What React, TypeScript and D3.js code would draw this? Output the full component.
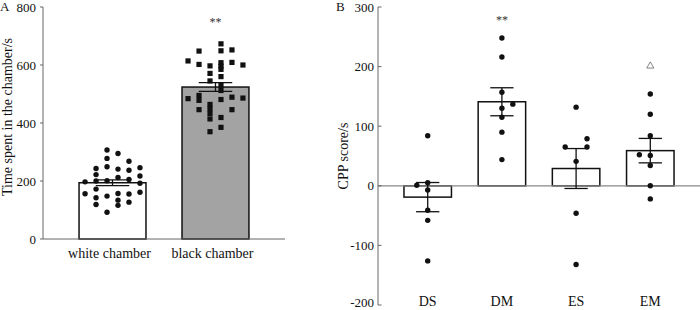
import React from "react";
import * as d3 from "d3";

// ---------- Panel A data ----------
const categoriesA = ["white chamber", "black chamber"];
const meansA = [194, 524];
const semA = [10, 15];
const ticksA = [0, 200, 400, 600, 800];
// white chamber individual values and their jitter column (0..5)
const whiteValues = [197, 156, 243, 222, 200, 172, 142, 119, 307, 278, 249, 201, 148, 92, 295, 241, 212, 157, 134, 116, 268, 237, 205, 155, 127, 246, 217, 192, 161];
const whiteCols = [0, 0, 1, 1, 1, 1, 1, 1, 2, 2, 2, 2, 2, 2, 3, 3, 3, 3, 3, 3, 4, 4, 4, 4, 4, 5, 5, 5, 5];
const blackValues = [614, 484, 648, 602, 495, 478, 446, 597, 571, 545, 464, 449, 433, 414, 370, 673, 649, 608, 596, 585, 560, 530, 512, 481, 419, 385, 652, 609, 489, 446, 600, 486];
const blackCols = [0, 0, 1, 1, 1, 1, 1, 2, 2, 2, 2, 2, 2, 2, 2, 3, 3, 3, 3, 3, 3, 3, 3, 3, 3, 3, 4, 4, 4, 4, 5, 5];
const sigA = ["", "**"];

// ---------- Panel B data ----------
const categoriesB = ["DS", "DM", "ES", "EM"];
const meansB = [-19, 141, 29, 59];
const semB = [24.5, 23.5, 33.5, 20.5];
const ticksB = [-200, -100, 0, 100, 200, 300];
const dsValues = [84, 1, 5, -7, -41, -58, -126];
const dsCols = [0, -1, 0, 0, 0, 0, 0];
const dmValues = [248, 216, 157, 137, 130, 115, 90, 44];
const dmCols = [0, 0, 0, 1, 0, 0, 0, 0];
const esValues = [132, 65, 79, 65, 41, -46, -132];
const esCols = [0, -1, 1, 1, 0, 0, 0];
const emValues = [154, 120, 84, 52, 51, 34, 0, -22];
const emCols = [0, 0, 0, -1, 0, 0, 0, 0];
const sigB = ["", "**", "", ""];
const triangleB = [null, null, null, 201];

const FONT = "'Liberation Serif', 'Times New Roman', serif";
const AXIS = "#666";

export default function App() {
  // Panel A scales
  const xA = d3.scaleBand<string>().domain(categoriesA).range([43, 285]).paddingInner(0.35).paddingOuter(0.35);
  const yA = d3.scaleLinear().domain([0, 800]).range([239, 7]);
  const bwA = xA.bandwidth();
  const colStepA = bwA * 0.164;
  const ptsA = [
    { cat: categoriesA[0], values: whiteValues, cols: whiteCols, square: false },
    { cat: categoriesA[1], values: blackValues, cols: blackCols, square: true },
  ];

  // Panel B scales
  const xB = d3.scaleBand<string>().domain(categoriesB).range([378, 700]).paddingInner(0.36).paddingOuter(0.35);
  const yB = d3.scaleLinear().domain([-200, 300]).range([305, 7]);
  const bwB = xB.bandwidth();
  const colStepB = bwB * 0.23;
  const ptsB = [
    { values: dsValues, cols: dsCols },
    { values: dmValues, cols: dmCols },
    { values: esValues, cols: esCols },
    { values: emValues, cols: emCols },
  ];

  return (
    <svg width={700} height={310} style={{ position: "absolute", left: 0, top: 0, background: "#fff" }} fontFamily={FONT}>
      {/* ===== Panel A ===== */}
      <text x={0} y={11} fontSize={13} fill="#111">A</text>
      <text transform={`translate(12,${(yA(0) + yA(800)) / 2 - 6}) rotate(-90)`} textAnchor="middle" fontSize={14} fill="#111">
        Time spent in the chamber/s
      </text>
      {/* bars */}
      {categoriesA.map((c, i) => (
        <rect key={c} x={xA(c)!} y={yA(meansA[i])} width={bwA} height={yA(0) - yA(meansA[i])}
          fill={i === 0 ? "#fff" : "#a3a3a3"} stroke="#111" strokeWidth={1.5} />
      ))}
      {/* points */}
      {ptsA.map((g) =>
        g.values.map((v, j) => {
          const cx = xA(g.cat)! + bwA / 2 + (g.cols[j] - 2.5) * colStepA;
          const cy = yA(v);
          return g.square ? (
            <rect key={g.cat + j} x={cx - 2.6} y={cy - 2.6} width={5.2} height={5.2} fill="#111" />
          ) : (
            <circle key={g.cat + j} cx={cx} cy={cy} r={2.7} fill="#111" />
          );
        })
      )}
      {/* error bars */}
      {categoriesA.map((c, i) => {
        const cx = xA(c)! + bwA / 2;
        const hw = bwA * 0.25;
        return (
          <g key={"eA" + c} stroke="#111" strokeWidth={1.3}>
            <line x1={cx} x2={cx} y1={yA(meansA[i] + semA[i])} y2={yA(meansA[i] - semA[i])} />
            <line x1={cx - hw} x2={cx + hw} y1={yA(meansA[i] + semA[i])} y2={yA(meansA[i] + semA[i])} />
            <line x1={cx - hw} x2={cx + hw} y1={yA(meansA[i] - semA[i])} y2={yA(meansA[i] - semA[i])} />
          </g>
        );
      })}
      {/* significance */}
      {categoriesA.map((c, i) => (
        <text key={"sA" + c} x={xA(c)! + bwA / 2} y={yA(735)} textAnchor="middle" fontSize={12} fill="#333">{sigA[i]}</text>
      ))}
      {/* axes */}
      <line x1={43} x2={43} y1={yA(800)} y2={yA(0)} stroke={AXIS} strokeWidth={1} />
      <line x1={43} x2={285} y1={yA(0)} y2={yA(0)} stroke={AXIS} strokeWidth={1} />
      {ticksA.map((t) => (
        <g key={"tA" + t}>
          <line x1={40} x2={43} y1={yA(t)} y2={yA(t)} stroke={AXIS} />
          <text x={36} y={yA(t) + 4.5} textAnchor="end" fontSize={13} fill="#111">{t}</text>
        </g>
      ))}
      {categoriesA.map((c) => (
        <text key={"lA" + c} x={xA(c)! + bwA / 2 - 3} y={258} textAnchor="middle" fontSize={14} fill="#111">{c}</text>
      ))}

      {/* ===== Panel B ===== */}
      <text x={336} y={11} fontSize={13} fill="#111">B</text>
      <text transform={`translate(348,${(yB(-200) + yB(300)) / 2}) rotate(-90)`} textAnchor="middle" fontSize={14} fill="#111">
        CPP score/s
      </text>
      {categoriesB.map((c, i) => (
        <rect key={c} x={xB(c)!} y={Math.min(yB(meansB[i]), yB(0))} width={bwB}
          height={Math.abs(yB(0) - yB(meansB[i]))} fill="#fff" stroke="#111" strokeWidth={1.5} />
      ))}
      <line x1={378} x2={700} y1={yB(0)} y2={yB(0)} stroke="#888" strokeWidth={1.3} />
      {ptsB.map((g, i) =>
        g.values.map((v, j) => (
          <circle key={"pB" + i + "-" + j} cx={xB(categoriesB[i])! + bwB / 2 + g.cols[j] * colStepB} cy={yB(v)} r={2.7} fill="#111" />
        ))
      )}
      {categoriesB.map((c, i) => {
        const cx = xB(c)! + bwB / 2;
        const hw = bwB * 0.245;
        return (
          <g key={"eB" + c} stroke="#111" strokeWidth={1.3}>
            <line x1={cx} x2={cx} y1={yB(meansB[i] + semB[i])} y2={yB(meansB[i] - semB[i])} />
            <line x1={cx - hw} x2={cx + hw} y1={yB(meansB[i] + semB[i])} y2={yB(meansB[i] + semB[i])} />
            <line x1={cx - hw} x2={cx + hw} y1={yB(meansB[i] - semB[i])} y2={yB(meansB[i] - semB[i])} />
          </g>
        );
      })}
      {categoriesB.map((c, i) => (
        <text key={"sB" + c} x={xB(c)! + bwB / 2} y={yB(272)} textAnchor="middle" fontSize={12} fill="#333">{sigB[i]}</text>
      ))}
      {categoriesB.map((c, i) => {
        const t = triangleB[i];
        if (t == null) return null;
        const cx = xB(c)! + bwB / 2;
        const cy = yB(t);
        const p = d3.symbol().type(d3.symbolTriangle).size(22)();
        return <path key={"tr" + c} d={p!} transform={`translate(${cx},${cy})`} fill="none" stroke="#777" strokeWidth={0.9} />;
      })}
      <line x1={378} x2={378} y1={yB(300)} y2={yB(-200)} stroke={AXIS} strokeWidth={1} />
      {ticksB.map((t) => (
        <g key={"tB" + t}>
          <line x1={378} x2={381.5} y1={yB(t)} y2={yB(t)} stroke={AXIS} />
          <text x={374} y={Math.min(yB(t) + 4.5, 307)} textAnchor="end" fontSize={13} fill="#111">{t}</text>
        </g>
      ))}
      {categoriesB.map((c) => (
        <text key={"lB" + c} x={xB(c)! + bwB / 2} y={306} textAnchor="middle" fontSize={14} fill="#111">{c}</text>
      ))}
    </svg>
  );
}
